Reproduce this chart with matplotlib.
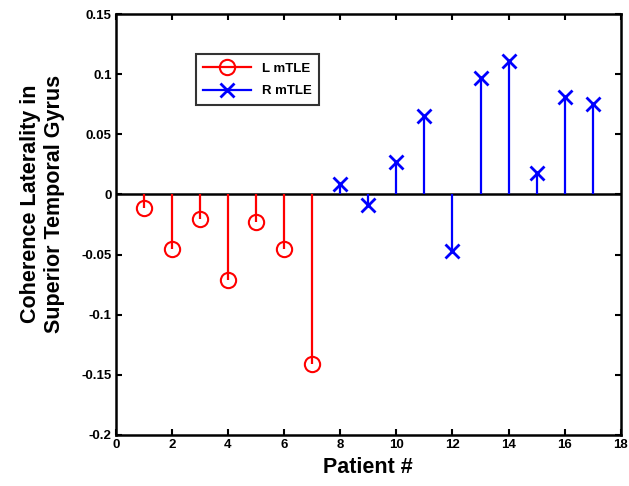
import matplotlib
matplotlib.use('Agg')
import matplotlib.pyplot as plt
from matplotlib.lines import Line2D

# patients and laterality values
left_patients = [1, 2, 3, 4, 5, 6, 7]
left_values = [-0.011, -0.045, -0.020, -0.071, -0.023, -0.045, -0.141]
right_patients = [8, 9, 10, 11, 12, 13, 14, 15, 16, 17]
right_values = [0.009, -0.009, 0.027, 0.065, -0.047, 0.097, 0.111, 0.018, 0.081, 0.075]

x_ticks = [0, 2, 4, 6, 8, 10, 12, 14, 16, 18]
y_ticks = [-0.2, -0.15, -0.1, -0.05, 0, 0.05, 0.1, 0.15]
y_tick_labels = ['-0.2', '-0.15', '-0.1', '-0.05', '0', '0.05', '0.1', '0.15']

plt.rcParams['font.family'] = ['Liberation Sans', 'DejaVu Sans']

fig = plt.figure(figsize=(6.29, 4.86), dpi=100)
ax = fig.add_axes([0.184, 0.105, 0.803, 0.866])

# baseline at zero
ax.axhline(0, color='black', linewidth=1.8, zorder=1)

# left mTLE stems
ml, sl, bl = ax.stem(left_patients, left_values, linefmt='r-', markerfmt='ro', basefmt=' ')
plt.setp(sl, linewidth=1.6, color='red')
plt.setp(ml, markersize=11, markerfacecolor='none', markeredgewidth=1.5, color='red')

# right mTLE stems
mr, sr, br = ax.stem(right_patients, right_values, linefmt='b-', markerfmt='bx', basefmt=' ')
plt.setp(sr, linewidth=1.6, color='blue')
plt.setp(mr, markersize=10, markeredgewidth=2, color='blue')

ax.set_xlim(0, 18)
ax.set_ylim(-0.2, 0.15)
ax.set_xticks(x_ticks)
ax.set_yticks(y_ticks)
ax.set_yticklabels(y_tick_labels)
ax.tick_params(direction='in', top=True, right=True, length=4, width=1.5, labelsize=9.5, pad=3)
for lab in ax.get_xticklabels() + ax.get_yticklabels():
    lab.set_fontweight('bold')
for sp in ax.spines.values():
    sp.set_linewidth(1.8)

ax.set_xlabel('Patient #', fontsize=15.5, fontweight='bold', labelpad=4)
ax.set_ylabel('Coherence Laterality in\nSuperior Temporal Gyrus', fontsize=15.5, fontweight='bold')
ax.yaxis.set_label_coords(-0.1, 0.55)

# marker+line handles like MATLAB stem legend
h1 = Line2D([], [], color='red', linewidth=1.6, marker='o', markersize=11, markerfacecolor='none', markeredgewidth=1.5)
h2 = Line2D([], [], color='blue', linewidth=1.6, marker='x', markersize=10, markeredgewidth=2)
leg = ax.legend(handles=[h1, h2], labels=['L mTLE', 'R mTLE'], loc='upper left', bbox_to_anchor=(0.145, 0.92),
                fancybox=False, edgecolor='black', fontsize=9.5, handlelength=3.6, borderpad=0.6,
                labelspacing=0.8, numpoints=1)
leg.get_frame().set_linewidth(1.5)
for t in leg.get_texts():
    t.set_fontweight('bold')

fig.savefig('out.png', dpi=100)
